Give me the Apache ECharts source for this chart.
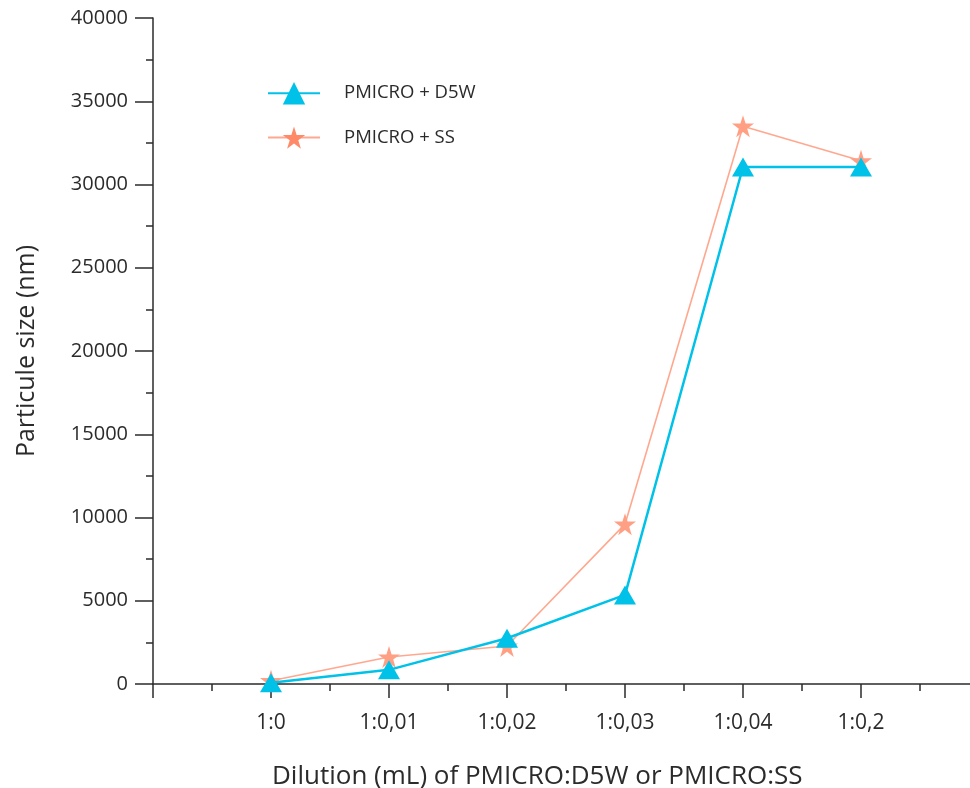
<!DOCTYPE html>
<html>
<head>
<meta charset="utf-8">
<script src="https://cdn.jsdelivr.net/npm/echarts@6/dist/echarts.min.js"></script>
<style>html,body{margin:0;padding:0;background:#fff;}#c{width:970px;height:788px;}</style>
</head>
<body>
<div id="c"></div>
<script>
const categories = ['1:0', '1:0,01', '1:0,02', '1:0,03', '1:0,04', '1:0,2'];
const d5w = [80, 850, 2750, 5350, 31050, 31050];
const ss = [200, 1620, 2280, 9600, 33500, 31420];
const yTicks = [0, 5000, 10000, 15000, 20000, 25000, 30000, 35000, 40000];

const FONT = 'Open Sans';
const TXT = '#2b2b2b';
const STAR = 'path://M50,0 L61.2,34.5 L97.6,34.5 L68.2,55.9 L79.4,90.5 L50,69.1 L20.6,90.5 L31.8,55.9 L2.4,34.5 L38.8,34.5 Z';
const chart = echarts.init(document.getElementById('c'));
chart.setOption({
  animation: false,
  backgroundColor: '#fff',
  grid: { left: 153, right: -9, top: 18, bottom: 104, containLabel: false, outerBoundsMode: 'none' },
  legend: {
    orient: 'vertical', left: 267, top: 82, padding: 0, itemWidth: 52, itemHeight: 28, itemGap: 22,
    textStyle: { fontFamily: FONT, fontSize: 18.5, color: TXT, padding: [0, 0, 0, 19] },
    data: [
      { name: 'PMICRO + D5W', itemStyle: { color: '#00C2E8' } },
      { name: 'PMICRO + SS', itemStyle: { color: '#FF8A68' } }
    ]
  },
  xAxis: {
    type: 'value', min: -1, max: 6, interval: 1,
    axisLine: { show: true, onZero: false, lineStyle: { color: TXT, width: 1.5 } },
    axisTick: { show: true, length: 14, lineStyle: { color: TXT, width: 1.5 } },
    minorTick: { show: true, splitNumber: 2, length: 7, lineStyle: { color: TXT, width: 1.5 } },
    splitLine: { show: false },
    axisLabel: {
      margin: 29, fontFamily: FONT, fontSize: 21, color: TXT,
      formatter: v => (Number.isInteger(v) && v >= 0 && v < categories.length) ? categories[v] : ''
    }
  },
  yAxis: {
    type: 'value', min: yTicks[0], max: yTicks[yTicks.length - 1], interval: 5000,
    name: 'Particule size (nm)', nameLocation: 'middle', nameGap: 114,
    nameTextStyle: { fontFamily: FONT, fontSize: 25, color: TXT },
    axisLine: { show: true, onZero: false, lineStyle: { color: TXT, width: 1.5 } },
    axisTick: { show: true, length: 18, lineStyle: { color: TXT, width: 1.5 } },
    minorTick: { show: true, splitNumber: 2, length: 7, lineStyle: { color: TXT, width: 1.5 } },
    splitLine: { show: false },
    axisLabel: { margin: 25, fontFamily: FONT, fontSize: 20, color: TXT, formatter: v => String(v) }
  },
  graphic: [{
    type: 'text', left: 272, top: 764,
    style: { text: 'Dilution (mL) of PMICRO:D5W or PMICRO:SS', fontFamily: FONT, fontSize: 26, fill: TXT }
  }],
  series: [
    {
      name: 'PMICRO + SS', type: 'line', z: 2,
      data: categories.map((c, i) => [i, ss[i]]),
      symbol: STAR, symbolSize: 22,
      lineStyle: { color: '#FFA88F', width: 1.6 },
      itemStyle: { color: '#FFA085' }
    },
    {
      name: 'PMICRO + D5W', type: 'line', z: 3,
      data: categories.map((c, i) => [i, d5w[i]]),
      symbol: 'triangle', symbolSize: [22, 19],
      lineStyle: { color: '#00C2E8', width: 2.5 },
      itemStyle: { color: '#00C2E8' }
    }
  ]
});
</script>
</body>
</html>
